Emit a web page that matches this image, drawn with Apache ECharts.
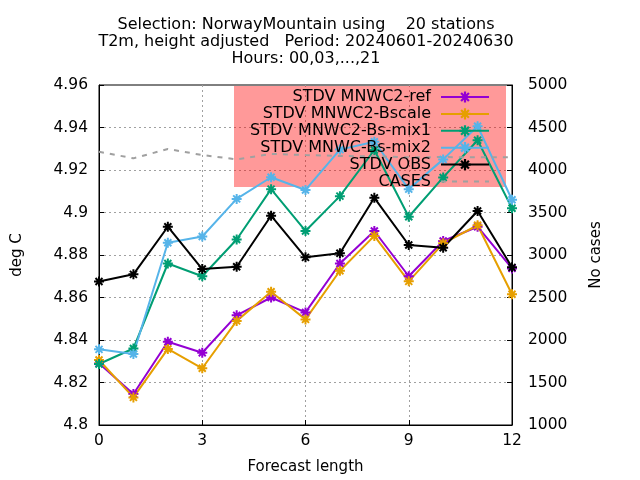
<!DOCTYPE html>
<html>
<head>
<meta charset="utf-8">
<script src="https://cdn.jsdelivr.net/npm/echarts@6/dist/echarts.min.js"></script>
<style>
html,body{margin:0;padding:0;background:#fff;}
#c{width:640px;height:480px;}
</style>
</head>
<body>
<div id="c"></div>
<script>
const leadTimes = [0,1,2,3,4,5,6,7,8,9,10,11,12];
const stdvRef    = [4.829,4.8146,4.8392,4.834,4.8516,4.860,4.853,4.876,4.8913,4.870,4.8866,4.8933,4.8737];
const stdvBscale = [4.8306,4.813,4.8358,4.8267,4.849,4.8627,4.8497,4.8726,4.889,4.8676,4.8855,4.894,4.8615];
const stdvMix1   = [4.8287,4.836,4.876,4.870,4.8873,4.911,4.8913,4.9077,4.9294,4.898,4.9165,4.934,4.902];
const stdvMix2   = [4.8356,4.8334,4.8858,4.8887,4.9064,4.9166,4.9106,4.9296,4.9333,4.911,4.925,4.9406,4.906];
const stdvObs    = [4.8675,4.8709,4.8933,4.8734,4.8745,4.8985,4.8789,4.8808,4.9069,4.8847,4.8834,4.9007,4.8742];
const cases      = [4215,4137,4247,4176,4125,4190,4176,4165,4160,4150,4152,4150,4150];
const seriesNames = ['STDV MNWC2-ref','STDV MNWC2-Bscale','STDV MNWC2-Bs-mix1','STDV MNWC-Bs-mix2','STDV OBS','CASES'];
const titleLines = ['Selection: NorwayMountain using    20 stations','T2m, height adjusted   Period: 20240601-20240630','Hours: 00,03,...,21'];

const FONT = 'DejaVu Sans';
const star = 'path://M4,0L6,0L6,10L4,10Z M0,4L10,4L10,6L0,6Z M2.2,0.8L9.2,7.8L7.8,9.2L0.8,2.2Z M7.8,0.8L9.2,2.2L2.2,9.2L0.8,7.8Z';
const pairs = v => leadTimes.map((x,i)=>[x,v[i]]);

function mk(name, data, color){
  return {
    name, type:'line', data:pairs(data), symbol:star, symbolSize:10,
    showSymbol:true, zlevel:1, z:2,
    lineStyle:{color, width:2}, itemStyle:{color, borderWidth:0},
    emphasis:{disabled:true}, animation:false
  };
}

const chart = echarts.init(document.getElementById('c'), null, {renderer:'canvas'});
chart.setOption({
  animation:false,
  backgroundColor:'#fff',
  title: titleLines.map((t,i)=>({
    text:t, left:306, textAlign:'center', top:16.5+17*i, padding:0,
    textStyle:{fontFamily:FONT, fontSize:16, fontWeight:'normal', color:'#000', lineHeight:17}
  })),
  graphic:[{type:'rect', left:234, top:86, zlevel:1, z:0, shape:{width:272, height:101}, style:{fill:'rgba(255,0,0,0.4)'}, silent:true}],
  legend:{
    data:seriesNames.map((n,i)=> i===5 ? {name:n, itemStyle:{opacity:0}} : {name:n}),
    orient:'vertical', right:150, top:89, align:'right', padding:0,
    itemWidth:48, itemHeight:14, itemGap:0.9,
    textStyle:{fontFamily:FONT, fontSize:16, color:'#000', lineHeight:14, padding:[0,5,0,0]},
    selectedMode:false, zlevel:1, z:5
  },
  grid:{left:99, right:128, top:85, bottom:55, show:true, borderColor:'#000', borderWidth:1},
  xAxis:{
    type:'value', min:0, max:12, interval:3,
    name:'Forecast length', nameLocation:'middle', nameGap:35,
    nameTextStyle:{fontFamily:FONT, fontSize:15, color:'#000'},
    axisLine:{lineStyle:{color:'#000', width:1}},
    axisTick:{inside:true, length:5, lineStyle:{color:'#000'}},
    axisLabel:{fontFamily:FONT, fontSize:15.5, color:'#000', margin:8},
    splitLine:{show:true, showMinLine:false, showMaxLine:false, lineStyle:{color:'#a0a0a0', type:[2,3], width:1}}
  },
  yAxis:[{
    type:'value', min:4.8, max:4.96, interval:0.02, position:'left',
    name:'deg C', nameLocation:'middle', nameGap:74, nameRotate:90,
    nameTextStyle:{fontFamily:FONT, fontSize:15, color:'#000'},
    axisLine:{show:true, lineStyle:{color:'#000'}},
    axisTick:{show:true, inside:true, length:5, lineStyle:{color:'#000'}},
    axisLabel:{fontFamily:FONT, fontSize:15.5, color:'#000', margin:11},
    splitLine:{show:true, showMinLine:false, showMaxLine:false, lineStyle:{color:'#a0a0a0', type:[2,3], width:1}}
  },{
    type:'value', min:1000, max:5000, interval:500, position:'right',
    name:'No cases', nameLocation:'middle', nameGap:77, nameRotate:90,
    nameTextStyle:{fontFamily:FONT, fontSize:15, color:'#000'},
    axisLine:{show:true, lineStyle:{color:'#000'}},
    axisTick:{show:true, inside:true, length:5, lineStyle:{color:'#000'}},
    axisLabel:{fontFamily:FONT, fontSize:15.5, color:'#000', margin:16, formatter: v => String(v)},
    splitLine:{show:false}
  }],
  series:[
    mk(seriesNames[0], stdvRef, '#9400d3'),
    mk(seriesNames[1], stdvBscale, '#e69f00'),
    mk(seriesNames[2], stdvMix1, '#009e73'),
    mk(seriesNames[3], stdvMix2, '#56b4e9'),
    mk(seriesNames[4], stdvObs, '#000000'),
    {
      name:seriesNames[5], type:'line', yAxisIndex:1, data:pairs(cases), symbol:'circle', showSymbol:false,
      zlevel:1, z:2,
      lineStyle:{color:'#a0a0a0', width:2, type:[5,6]}, itemStyle:{color:'#a0a0a0'},
      emphasis:{disabled:true}, animation:false
    }
  ]
});
</script>
</body>
</html>
